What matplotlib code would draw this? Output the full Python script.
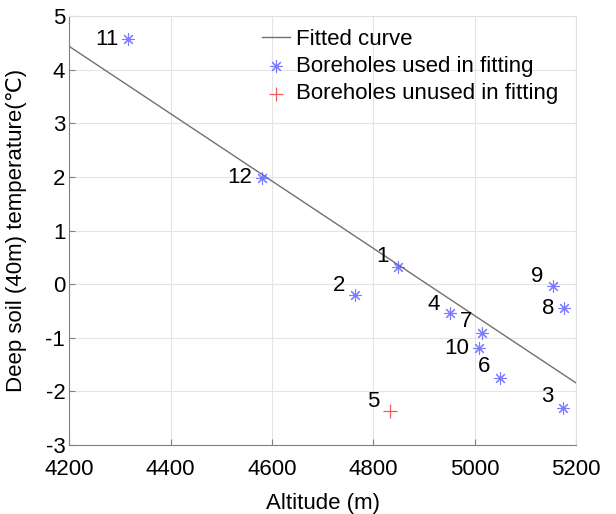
import matplotlib
matplotlib.use("Agg")
import matplotlib.pyplot as plt

plt.rcParams['font.family'] = ['Liberation Sans', 'DejaVu Sans']
plt.rcParams['axes.unicode_minus'] = False

# Data
used_ids = ["11", "12", "1", "2", "4", "7", "10", "6", "3", "9", "8"]
used_alt = [4316, 4580, 4849, 4764, 4951, 5015, 5008, 5050, 5175, 5155, 5177]
used_temp = [4.57, 1.98, 0.32, -0.21, -0.54, -0.91, -1.19, -1.75, -2.31, -0.04, -0.45]

unused_ids = ["5"]
unused_alt = [4832]
unused_temp = [-2.37]

fit_alt = [4200, 5200]
fit_temp = [4.43, -1.84]

xticks = [4200, 4400, 4600, 4800, 5000, 5200]
yticks = [-3, -2, -1, 0, 1, 2, 3, 4, 5]

# label vertical offsets (points) for the id annotations
used_dy = [0, 0, 7.5, 7.5, 6.5, 8.3, 0, 8.3, 8.3, 7.2, 0]
unused_dy = [7.2]

fig = plt.figure(figsize=(6.16, 5.14), dpi=100)
ax = fig.add_axes([0.1127, 0.134, 0.8223, 0.835])

ax.plot(fit_alt, fit_temp, color='#707070', lw=1.0, label='Fitted curve', zorder=2)
ax.scatter(used_alt, used_temp, marker=(8, 2, 0), s=70, color='#5a5aff', alpha=0.8,
           lw=0.8, label='Boreholes used in fitting', zorder=3)
ax.scatter(unused_alt, unused_temp, marker='+', s=110, color='#f05a5a', lw=0.9,
           label='Boreholes unused in fitting', zorder=3)

fs = 16
for i, t in enumerate(used_ids):
    ax.annotate(t, (used_alt[i], used_temp[i]), xytext=(-7, used_dy[i]),
                textcoords='offset points', ha='right', va='center', fontsize=fs)
for i, t in enumerate(unused_ids):
    ax.annotate(t, (unused_alt[i], unused_temp[i]), xytext=(-7, unused_dy[i]),
                textcoords='offset points', ha='right', va='center', fontsize=fs)

ax.set_xlim(4200, 5200)
ax.set_ylim(-3, 5)
ax.set_xticks(xticks)
ax.set_yticks(yticks)
ax.grid(True, color='#e4e4e4', lw=0.8)
ax.set_axisbelow(True)
ax.tick_params(direction='in', length=4, color='#808080', labelsize=fs)
ax.tick_params(axis='x', pad=10)
ax.tick_params(axis='y', pad=3)
for s in ['left', 'bottom']:
    ax.spines[s].set_color('#808080')
for s in ['top', 'right']:
    ax.spines[s].set_color('#e0e0e0')

ax.set_xlabel('Altitude (m)', fontsize=fs, labelpad=9)
ax.set_ylabel('Deep soil (40m) temperature(℃)', fontsize=fs, labelpad=13)

leg = ax.legend(loc='upper left', bbox_to_anchor=(0.372, 0.98), frameon=False,
                fontsize=fs, handlelength=1.25, handletextpad=0.25, labelspacing=0.28,
                borderaxespad=0, borderpad=0.2)

fig.savefig('out.png', dpi=100)
